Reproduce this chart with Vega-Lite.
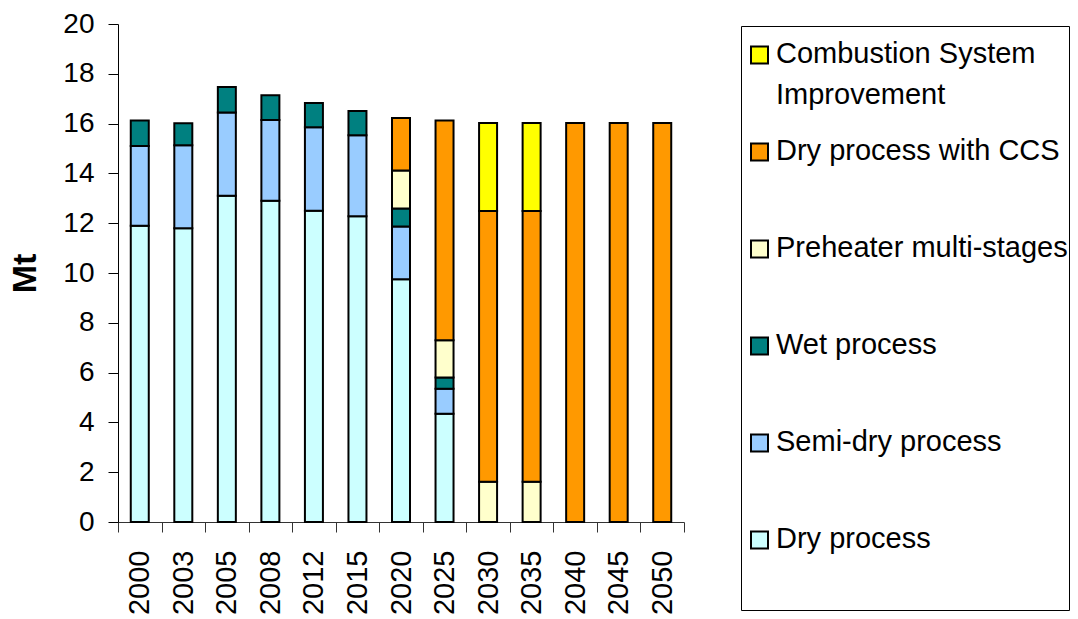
{
  "$schema": "https://vega.github.io/schema/vega-lite/v6.json",
  "width": 566,
  "height": 498,
  "autosize": {"type": "none"},
  "padding": {"left": 118, "top": 24, "right": 394, "bottom": 97},
  "background": "white",
  "config": {"view": {"stroke": null}, "font": "Liberation Sans"},
  "data": {
    "values": [
      {"year": "2000", "process": "Dry process", "mt": 11.9},
      {"year": "2000", "process": "Semi-dry process", "mt": 3.2},
      {"year": "2000", "process": "Wet process", "mt": 1.02},
      {"year": "2003", "process": "Dry process", "mt": 11.8},
      {"year": "2003", "process": "Semi-dry process", "mt": 3.33},
      {"year": "2003", "process": "Wet process", "mt": 0.88},
      {"year": "2005", "process": "Dry process", "mt": 13.1},
      {"year": "2005", "process": "Semi-dry process", "mt": 3.35},
      {"year": "2005", "process": "Wet process", "mt": 1.02},
      {"year": "2008", "process": "Dry process", "mt": 12.9},
      {"year": "2008", "process": "Semi-dry process", "mt": 3.24},
      {"year": "2008", "process": "Wet process", "mt": 1.0},
      {"year": "2012", "process": "Dry process", "mt": 12.5},
      {"year": "2012", "process": "Semi-dry process", "mt": 3.35},
      {"year": "2012", "process": "Wet process", "mt": 0.98},
      {"year": "2015", "process": "Dry process", "mt": 12.28},
      {"year": "2015", "process": "Semi-dry process", "mt": 3.25},
      {"year": "2015", "process": "Wet process", "mt": 0.98},
      {"year": "2020", "process": "Dry process", "mt": 9.75},
      {"year": "2020", "process": "Semi-dry process", "mt": 2.12},
      {"year": "2020", "process": "Wet process", "mt": 0.72},
      {"year": "2020", "process": "Preheater multi-stages", "mt": 1.53},
      {"year": "2020", "process": "Dry process with CCS", "mt": 2.1},
      {"year": "2025", "process": "Dry process", "mt": 4.35},
      {"year": "2025", "process": "Semi-dry process", "mt": 1.0},
      {"year": "2025", "process": "Wet process", "mt": 0.45},
      {"year": "2025", "process": "Preheater multi-stages", "mt": 1.5},
      {"year": "2025", "process": "Dry process with CCS", "mt": 8.82},
      {"year": "2030", "process": "Preheater multi-stages", "mt": 1.62},
      {"year": "2030", "process": "Dry process with CCS", "mt": 10.87},
      {"year": "2030", "process": "Combustion System Improvement", "mt": 3.53},
      {"year": "2035", "process": "Preheater multi-stages", "mt": 1.62},
      {"year": "2035", "process": "Dry process with CCS", "mt": 10.87},
      {"year": "2035", "process": "Combustion System Improvement", "mt": 3.53},
      {"year": "2040", "process": "Dry process with CCS", "mt": 16.02},
      {"year": "2045", "process": "Dry process with CCS", "mt": 16.02},
      {"year": "2050", "process": "Dry process with CCS", "mt": 16.02}
    ]
  },
  "transform": [
    {
      "calculate": "indexof(['Dry process','Semi-dry process','Wet process','Preheater multi-stages','Dry process with CCS','Combustion System Improvement'], datum.process)",
      "as": "stackOrder"
    }
  ],
  "mark": {"type": "bar", "width": 18, "stroke": "black", "strokeWidth": 2},
  "encoding": {
    "x": {
      "field": "year",
      "type": "ordinal",
      "scale": {"paddingInner": 0, "paddingOuter": 0},
      "axis": {
        "title": null,
        "tickBand": "extent",
        "labelAngle": -90,
        "labelFontSize": 29,
        "labelColor": "black",
        "labelPadding": 18,
        "tickSize": 10,
        "tickColor": "#333333",
        "domainColor": "#333333",
        "labelFont": "Liberation Sans"
      }
    },
    "y": {
      "field": "mt",
      "type": "quantitative",
      "stack": "zero",
      "scale": {"domain": [0, 20], "nice": false},
      "axis": {
        "title": "Mt",
        "titleFontSize": 34,
        "titleFontWeight": "bold",
        "titleColor": "black",
        "titlePadding": 20,
        "titleFont": "Liberation Sans",
        "values": [0, 2, 4, 6, 8, 10, 12, 14, 16, 18, 20],
        "grid": false,
        "labelFontSize": 28,
        "labelColor": "black",
        "labelPadding": 14,
        "labelFont": "Liberation Sans",
        "tickSize": 10,
        "tickColor": "black",
        "domainColor": "black"
      }
    },
    "order": {"field": "stackOrder", "type": "quantitative", "sort": "ascending"},
    "color": {
      "field": "process",
      "type": "nominal",
      "scale": {
        "domain": ["Combustion System Improvement", "Dry process with CCS", "Preheater multi-stages", "Wet process", "Semi-dry process", "Dry process"],
        "range": ["#FFFF00", "#FF9900", "#FFFFCC", "#008080", "#99CCFF", "#CCFFFF"]
      },
      "legend": {
        "title": null,
        "orient": "none",
        "legendX": 623,
        "legendY": 2,
        "strokeColor": "black",
        "padding": 1,
        "symbolType": "square",
        "symbolSize": 289,
        "symbolStrokeColor": "black",
        "symbolStrokeWidth": 2,
        "symbolOffset": 3,
        "labelOffset": 2,
        "labelFontSize": 29,
        "labelFont": "Liberation Sans",
        "labelColor": "black",
        "labelLimit": 400,
        "labelBaseline": "top",
        "clipHeight": 96.8,
        "rowPadding": 0,
        "labelExpr": "datum.label == 'Combustion System Improvement' ? ['Combustion System', 'Improvement'] : datum.label",
        "encode": {
          "symbols": {"update": {"y": {"value": 28}}},
          "labels": {"update": {"y": {"value": 12.5}, "lineHeight": {"value": 41}}}
        }
      }
    }
  }
}
